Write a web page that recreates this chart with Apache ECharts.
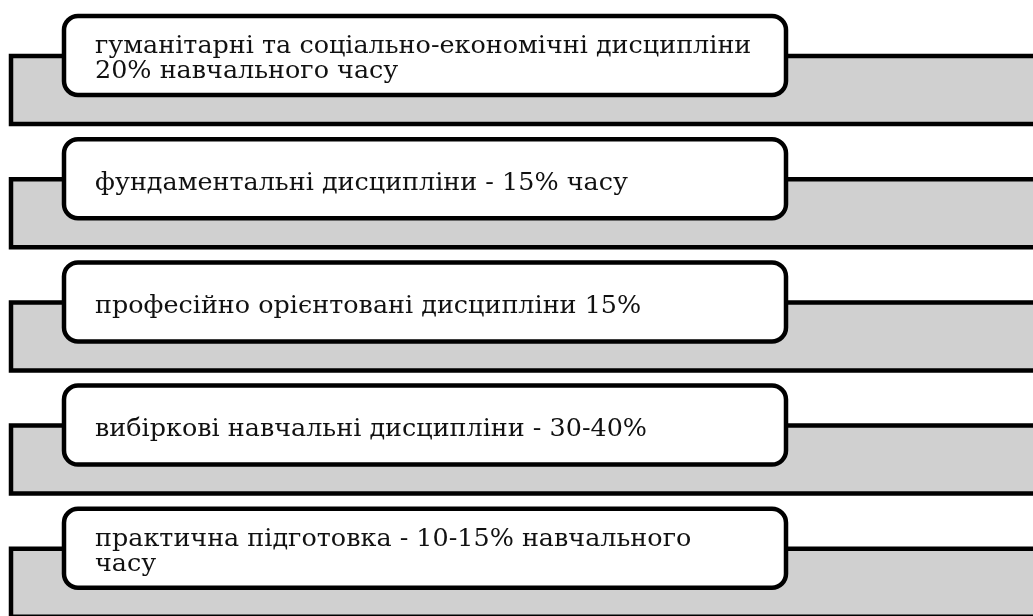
<!DOCTYPE html>
<html>
<head>
<meta charset="utf-8">
<script src="https://cdn.jsdelivr.net/npm/echarts@6/dist/echarts.min.js"></script>
<style>
html,body{margin:0;padding:0;background:#fff;}
#chart{width:1033px;height:616px;}
</style>
</head>
<body>
<div id="chart"></div>
<script>
// Data: the five blocks of the curriculum structure
const categories = [
  'гуманітарні та соціально-економічні дисципліни\n20% навчального часу',
  'фундаментальні дисципліни - 15% часу',
  'професійно орієнтовані дисципліни 15%',
  'вибіркові навчальні дисципліни - 30-40%',
  'практична підготовка - 10-15% навчального\nчасу'
];
const rowIndex = [0, 1, 2, 3, 4];

const chart = echarts.init(document.getElementById('chart'), null, {renderer: 'canvas'});

function renderItem(params, api) {
  const idx = api.value(0);
  const band = api.size([0, 1])[1];
  const yc = api.coord([0, idx])[1];
  const top = yc - band / 2;
  const lw = 4.5;
  const label = categories[idx];
  const lines = label.split('\n').length;
  const boxTop = top + 16, boxBottom = top + 95;
  const boxCenter = (boxTop + boxBottom) / 2;
  const ty = lines > 1 ? boxCenter + 3.5 : boxCenter + 5;
  return {
    type: 'group',
    children: [
      {
        type: 'rect',
        shape: {x: 11, y: top + 56, width: 1040, height: 68},
        style: {fill: '#d0d0d0', stroke: '#000', lineWidth: lw}
      },
      {
        type: 'rect',
        shape: {x: 64, y: boxTop, width: 722, height: boxBottom - boxTop, r: 14},
        style: {fill: '#fff', stroke: '#000', lineWidth: lw}
      },
      {
        type: 'text',
        x: 95,
        y: ty,
        scaleX: 1.06,
        style: {
          x: 0,
          y: 0,
          text: label,
          fill: '#111',
          font: '24px "DejaVu Serif"',
          lineHeight: 25,
          align: 'left',
          verticalAlign: 'middle'
        }
      }
    ]
  };
}

chart.setOption({
  animation: false,
  grid: {left: 0, right: 0, top: 0, height: 621.5},
  xAxis: {type: 'value', min: 0, max: 1033, show: false},
  yAxis: {type: 'category', data: rowIndex, inverse: true, show: false},
  series: [{
    type: 'custom',
    renderItem: renderItem,
    data: rowIndex.map(i => [i]),
    encode: {y: 0},
    clip: false
  }]
});
</script>
</body>
</html>
